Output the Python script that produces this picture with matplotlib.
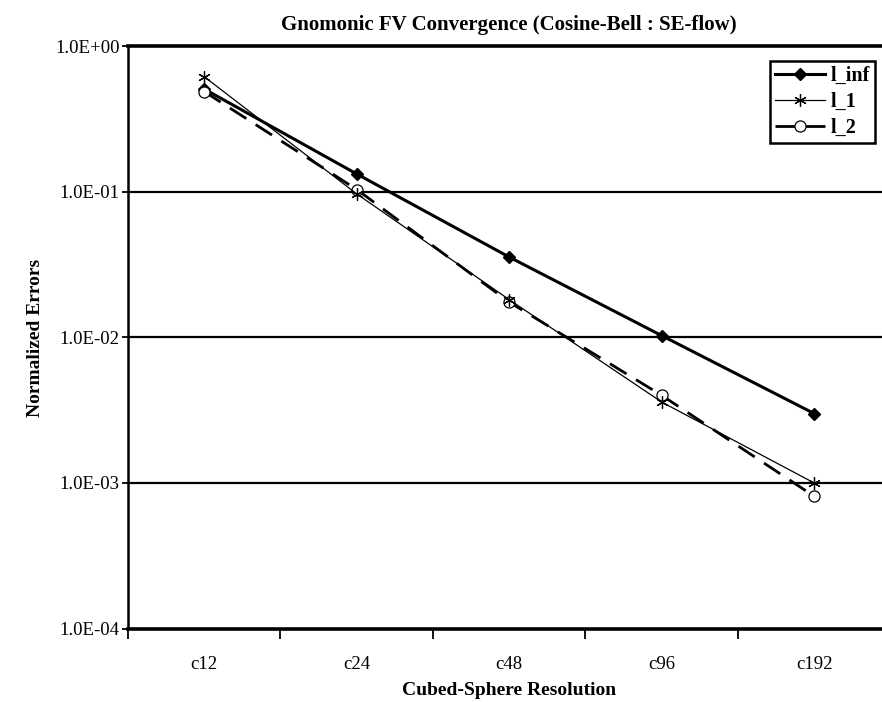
import numpy as np
import matplotlib.pyplot as plt
from matplotlib.ticker import FixedLocator, NullFormatter

plt.rcParams['font.family'] = ['Liberation Serif', 'DejaVu Serif']

resolutions = ['c12', 'c24', 'c48', 'c96', 'c192']
l_inf = [0.51, 0.133, 0.0357, 0.0103, 0.0030]
l_1 = [0.62, 0.097, 0.0182, 0.0036, 0.00100]
l_2 = [0.49, 0.104, 0.0175, 0.0040, 0.00081]
y_ticks = [1e-4, 1e-3, 1e-2, 1e-1, 1e0]
y_tick_labels = ['1.0E-04', '1.0E-03', '1.0E-02', '1.0E-01', '1.0E+00']

fig = plt.figure(figsize=(8.82, 7.02), dpi=100)
ax = fig.add_axes([0.1451, 0.1047, 0.8645, 0.8291])

x = np.arange(len(resolutions))

# horizontal gridlines at each decade
for yv in y_ticks[1:-1]:
    ax.axhline(yv, color='black', lw=1.6, zorder=1)

ax.plot(x, l_inf, '-', color='black', lw=2.2, marker='D', ms=6,
        mfc='black', mec='black', label='l_inf', zorder=3)
ax.plot(x, l_1, '-', color='black', lw=0.9, marker=(6, 2, 0), ms=9,
        mew=0.9, mec='black', label='l_1', zorder=4)
ax.plot(x, l_2, color='black', lw=2.0, dashes=(7, 4), marker='o', ms=8,
        mfc='white', mec='black', mew=0.9, label='l_2', zorder=3)

ax.set_yscale('log')
ax.set_ylim(1e-4, 1e0)
ax.set_xlim(-0.5, len(resolutions) - 0.5)

ax.yaxis.set_major_locator(FixedLocator(y_ticks))
ax.set_yticklabels(y_tick_labels)
ax.yaxis.set_minor_locator(FixedLocator([]))
ax.tick_params(axis='y', which='major', direction='inout', length=8, width=1.3,
               labelsize=13.5, pad=2)

ax.set_xticks(x)
ax.set_xticklabels(resolutions)
ax.xaxis.set_minor_locator(FixedLocator(np.arange(-0.5, len(resolutions), 1.0)))
ax.xaxis.set_minor_formatter(NullFormatter())
ax.tick_params(axis='x', which='major', length=0, labelsize=13.5, pad=20)
ax.tick_params(axis='x', which='minor', direction='out', length=7, width=1.3)

for side in ['top', 'bottom']:
    ax.spines[side].set_linewidth(2.6)
ax.spines['left'].set_linewidth(1.8)
ax.spines['right'].set_visible(False)

ax.set_title('Gnomonic FV Convergence (Cosine-Bell : SE-flow)',
             fontsize=15, fontweight='bold', pad=12)
ax.set_xlabel('Cubed-Sphere Resolution', fontsize=14, fontweight='bold', labelpad=6)
ax.set_ylabel('Normalized Errors', fontsize=14, fontweight='bold', labelpad=8)

leg = ax.legend(loc='upper left', bbox_to_anchor=(0.842, 0.975), frameon=True,
                fancybox=False, framealpha=1, edgecolor='black',
                prop={'weight': 'bold', 'size': 14.5}, handlelength=2.5,
                handletextpad=0.25, borderpad=0.25, labelspacing=0.3,
                borderaxespad=0)
leg.get_frame().set_linewidth(1.8)

fig.savefig('out.png', dpi=100)
